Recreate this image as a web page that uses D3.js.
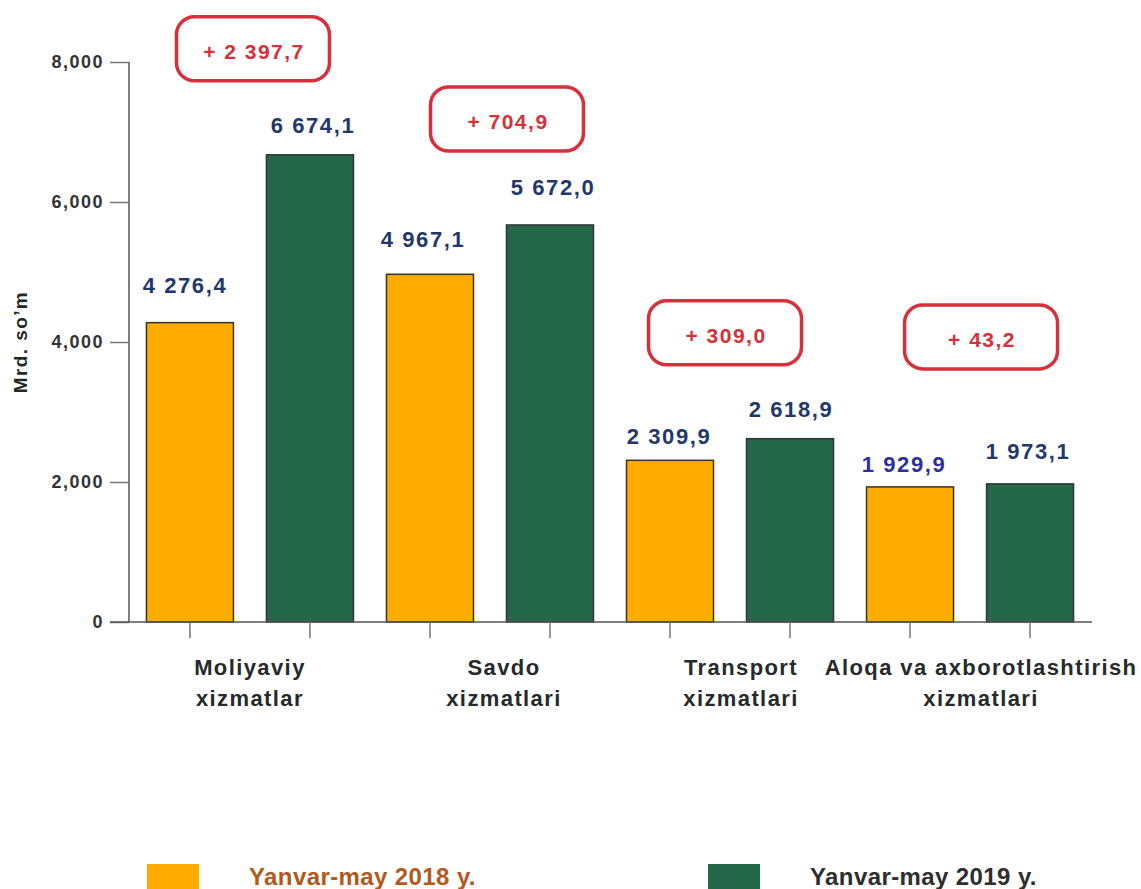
<!DOCTYPE html>
<html>
<head>
<meta charset="utf-8">
<script src="https://cdn.jsdelivr.net/npm/d3@7"></script>
<style>
  body { margin: 0; background: #fff; }
  text { font-family: Arial, "Liberation Sans", sans-serif; }
</style>
</head>
<body>
<div id="chart"></div>
<script>
// data
var categories = [["Moliyaviy", "xizmatlar"], ["Savdo", "xizmatlari"], ["Transport", "xizmatlari"], ["Aloqa va axborotlashtirish", "xizmatlari"]];
var series = ["Yanvar-may 2018 y.", "Yanvar-may 2019 y."];
var values2018 = [4276.4, 4967.1, 2309.9, 1929.9];
var values2019 = [6674.1, 5672.0, 2618.9, 1973.1];
var valueLabels2018 = ["4 276,4", "4 967,1", "2 309,9", "1 929,9"];
var valueLabels2019 = ["6 674,1", "5 672,0", "2 618,9", "1 973,1"];
var diffLabels = ["+ 2 397,7", "+ 704,9", "+ 309,0", "+ 43,2"];
var yTicks = [0, 2000, 4000, 6000, 8000];

var colors = ["#ffab00", "#246749"];
var labelColors = ["#b25a1e", "#2e2e2e"];

var svgWidth = 1141;
var svgHeight = 889;

var svg = d3.select("#chart")
  .append("svg")
  .attr("width", svgWidth)
  .attr("height", svgHeight);

// flatten bars: orange, green for each category
var bars = [];
categories.forEach(function(c, i) {
  bars.push({ cat: i, s: 0, v: values2018[i], label: valueLabels2018[i] });
  bars.push({ cat: i, s: 1, v: values2019[i], label: valueLabels2019[i] });
});

var x = d3.scaleBand()
  .domain(d3.range(bars.length))
  .range([130, 1090])
  .paddingInner(0.275)
  .paddingOuter(0.137);

var y = d3.scaleLinear()
  .domain([0, 8000])
  .range([622, 62]);

// y axis
var leftAxis = d3.axisLeft(y)
  .tickValues(yTicks)
  .tickFormat(d3.format(","))
  .tickSize(19)
  .tickPadding(6);

var gy = svg.append("g")
  .attr("transform", "translate(129,0)")
  .call(leftAxis);
gy.select(".domain").attr("stroke", "#555").attr("stroke-width", 1.5).attr("d", "M0,62V622");
gy.selectAll(".tick line").attr("stroke", "#777").attr("stroke-width", 1.5);
gy.selectAll(".tick text")
  .attr("fill", "#333")
  .style("font-size", "18px")
  .style("letter-spacing", "1.5px")
  .style("font-weight", "bold");

svg.append("text")
  .attr("transform", "translate(27," + y(4000) + ") rotate(-90)")
  .attr("text-anchor", "middle")
  .attr("fill", "#1f2a24")
  .style("font-size", "19px")
  .style("letter-spacing", "1.4px")
  .style("font-weight", "bold")
  .text("Mrd. so\u2019m");

// bars
svg.selectAll("rect.bar")
  .data(bars)
  .enter()
  .append("rect")
  .attr("class", "bar")
  .attr("x", function(d, i) { return x(i); })
  .attr("y", function(d) { return y(d.v); })
  .attr("width", x.bandwidth())
  .attr("height", function(d) { return y(0) - y(d.v); })
  .attr("fill", function(d) { return colors[d.s]; })
  .attr("stroke", "#333")
  .attr("stroke-width", 1.5);

// x axis line
svg.append("line")
  .attr("x1", 110).attr("x2", 1092)
  .attr("y1", y(0)).attr("y2", y(0))
  .attr("stroke", "#555").attr("stroke-width", 1.5);

// x ticks at bar centres
svg.selectAll("line.xtick")
  .data(bars)
  .enter()
  .append("line")
  .attr("class", "xtick")
  .attr("x1", function(d, i) { return x(i) + x.bandwidth() / 2; })
  .attr("x2", function(d, i) { return x(i) + x.bandwidth() / 2; })
  .attr("y1", y(0)).attr("y2", y(0) + 16)
  .attr("stroke", "#777").attr("stroke-width", 1.5);

// value labels (gap above bar and small shift)
var labelGap = [30, 22, 27, 30, 16, 22, 15, 25];
var labelDx = [-6, 2, -8, 2, -2, 0, -7, -3];
svg.selectAll("text.val")
  .data(bars)
  .enter()
  .append("text")
  .attr("class", "val")
  .attr("x", function(d, i) { return x(i) + x.bandwidth() / 2 + labelDx[i] + 1; })
  .attr("y", function(d, i) { return y(d.v) - labelGap[i]; })
  .attr("text-anchor", "middle")
  .attr("fill", function(d) { return d.cat == 3 && d.s == 0 ? "#2c2f9c" : "#22386a"; })
  .style("font-size", "22px")
  .style("letter-spacing", "1.6px")
  .style("font-weight", "bold")
  .text(function(d) { return d.label; });

// category labels
var pairCentre = function(i) { return (x(2 * i) + x(2 * i + 1) + x.bandwidth()) / 2; };
var catShift = [0, 14, 11, 11];
var catGroup = svg.selectAll("text.cat")
  .data(categories)
  .enter()
  .append("text")
  .attr("class", "cat")
  .attr("text-anchor", "middle")
  .attr("fill", "#262a2a")
  .style("font-size", "22px")
  .style("letter-spacing", "1.4px")
  .style("font-weight", "bold");
catGroup.selectAll("tspan")
  .data(function(d, i) { return d.map(function(t) { return { t: t, i: i }; }); })
  .enter()
  .append("tspan")
  .attr("x", function(d) { return pairCentre(d.i) + catShift[d.i]; })
  .attr("y", function(d, j) { return 675 + j * 31; })
  .text(function(d) { return d.t; });

// difference boxes
var boxLift = [138, 138, 138, 179];
var boxShift = [3, 17, -5, 11];
var boxW = 153, boxH = 64;
var boxes = svg.selectAll("g.diff")
  .data(diffLabels)
  .enter()
  .append("g")
  .attr("class", "diff")
  .attr("transform", function(d, i) {
    var top = y(Math.max(values2018[i], values2019[i])) - boxLift[i];
    return "translate(" + (pairCentre(i) + boxShift[i]) + "," + top + ")";
  });
boxes.append("rect")
  .attr("x", -boxW / 2).attr("y", 0)
  .attr("width", boxW).attr("height", boxH)
  .attr("rx", 18).attr("ry", 18)
  .attr("fill", "#fff")
  .attr("stroke", "#d7303a")
  .attr("stroke-width", 3.5);
boxes.append("text")
  .attr("x", 1).attr("y", boxH / 2 + 10)
  .attr("text-anchor", "middle")
  .attr("fill", "#d7303a")
  .style("font-size", "21px")
  .style("letter-spacing", "1.5px")
  .style("font-weight", "bold")
  .text(function(d) { return d; });

// legend
var legendX = [147, 708];
var legend = svg.selectAll("g.legend")
  .data(series)
  .enter()
  .append("g")
  .attr("class", "legend")
  .attr("transform", function(d, i) { return "translate(" + legendX[i] + ",864)"; });
legend.append("rect")
  .attr("width", 52).attr("height", 30)
  .attr("fill", function(d, i) { return colors[i]; });
legend.append("text")
  .attr("x", 102).attr("y", 21)
  .attr("fill", function(d, i) { return labelColors[i]; })
  .style("font-family", "'Liberation Sans Narrow', 'Arial Narrow', sans-serif")
  .style("font-stretch", "condensed")
  .style("font-size", "24px")
  .style("letter-spacing", "0.4px")
  .style("font-weight", "bold")
  .text(function(d) { return d; });
</script>
</body>
</html>
